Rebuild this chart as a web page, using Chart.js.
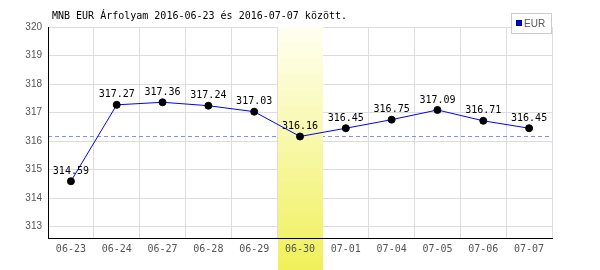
<!DOCTYPE html>
<html>
<head>
<meta charset="utf-8">
<script src="https://cdn.jsdelivr.net/npm/chart.js@4/dist/chart.umd.min.js"></script>
<style>
  html, body { margin: 0; padding: 0; background: #fff; }
  #wrap { width: 600px; height: 270px; position: relative; }
</style>
</head>
<body>
<div id="wrap"><canvas id="myChart"></canvas></div>
<script>
// adatok
const labels = ['06-23', '06-24', '06-27', '06-28', '06-29', '06-30', '07-01', '07-04', '07-05', '07-06', '07-07'];
const eurValues = [314.59, 317.27, 317.36, 317.24, 317.03, 316.16, 316.45, 316.75, 317.09, 316.71, 316.45];
const refLine = 316.16;      // szaggatott vonal
const highlightIndex = 5;    // kiemelt nap (06-30)
const titleText = 'MNB EUR Árfolyam 2016-06-23 és 2016-07-07 között.';
const yMin = 312.6;
const yMax = 320;

const monoFont = '"DejaVu Sans Mono", monospace';

// Kiemelés, szaggatott vonal, címkék, cím és jelmagyarázat
const extrasPlugin = {
    id: 'extras',
    beforeDatasetsDraw(chart) {
        const { ctx, chartArea, scales } = chart;
        const y = scales.y.getPixelForValue(refLine);
        ctx.save();
        ctx.strokeStyle = '#8888ff';
        ctx.lineWidth = 1;
        ctx.setLineDash([4, 3]);
        ctx.beginPath();
        ctx.moveTo(chartArea.left, Math.round(y) + 0.5);
        ctx.lineTo(chartArea.right, Math.round(y) + 0.5);
        ctx.stroke();
        ctx.restore();

        // kiemelt oszlop
        const step = (chartArea.right - chartArea.left) / labels.length;
        const x0 = chartArea.left + step * highlightIndex;
        const grad = ctx.createLinearGradient(0, chartArea.top, 0, chart.height);
        grad.addColorStop(0, '#fffff2');
        grad.addColorStop(1, '#f0f05a');
        ctx.save();
        ctx.fillStyle = grad;
        ctx.fillRect(Math.round(x0) + 1, chartArea.top, Math.round(step) - 1, chart.height - chartArea.top);
        ctx.restore();
    },
    afterDatasetsDraw(chart) {
        const { ctx } = chart;
        const meta = chart.getDatasetMeta(0);
        ctx.save();
        ctx.font = '10px ' + monoFont;
        ctx.fillStyle = '#000';
        ctx.textAlign = 'center';
        ctx.textBaseline = 'middle';
        meta.data.forEach((pt, i) => {
            ctx.fillText(eurValues[i].toFixed(2), pt.x, pt.y - 10);
        });
        ctx.restore();
    },
    afterDraw(chart) {
        const { ctx } = chart;
        ctx.save();
        // cím
        ctx.font = '10px ' + monoFont;
        ctx.fillStyle = '#000';
        ctx.textAlign = 'left';
        ctx.textBaseline = 'middle';
        ctx.fillText(titleText, 52, 16);

        // jelmagyarázat
        ctx.fillStyle = '#fff';
        ctx.fillRect(511, 13, 41, 20);
        ctx.strokeStyle = '#cccccc';
        ctx.lineWidth = 1;
        ctx.strokeRect(511.5, 13.5, 40, 20);
        ctx.fillStyle = '#0000ff';
        ctx.fillRect(516, 20, 6, 6);
        ctx.strokeStyle = '#000066';
        ctx.strokeRect(516.5, 20.5, 5, 5);
        ctx.font = '10px "Liberation Sans", Arial, sans-serif';
        ctx.fillStyle = '#555';
        ctx.fillText(chart.data.datasets[0].label, 524, 24);
        ctx.restore();
    }
};

const ctx = document.getElementById('myChart').getContext('2d');
const lineChart = new Chart(ctx, {
    type: 'line',
    data: {
        labels: labels,
        datasets: [
            {
                label: 'EUR',
                data: eurValues,
                borderColor: '#0000ff',
                borderWidth: 1,
                pointRadius: 3.5,
                pointBackgroundColor: '#000',
                pointBorderColor: '#000',
                pointBorderWidth: 1,
                tension: 0,
                fill: false
            }
        ]
    },
    options: {
        responsive: true,
        maintainAspectRatio: false,
        animation: false,
        devicePixelRatio: 1,
        layout: {
            padding: { top: 27, right: 48, left: 0, bottom: 0 }
        },
        plugins: {
            legend: { display: false },
            title: { display: false },
            tooltip: { enabled: false }
        },
        scales: {
            x: {
                offset: true,
                grid: { color: '#dddddd', offset: true, drawTicks: false },
                border: { color: '#000', z: 1 },
                ticks: {
                    z: 1,
                    color: '#555',
                    font: { family: monoFont, size: 10 },
                    padding: 5,
                    maxRotation: 0,
                    autoSkip: false
                },
                afterFit(scale) { scale.height = 32; }
            },
            y: {
                min: yMin,
                max: yMax,
                grid: { color: '#dddddd', drawTicks: false },
                border: { color: '#000', z: 1 },
                ticks: {
                    stepSize: 1,
                    color: '#555',
                    font: { family: '"Liberation Sans", Arial, sans-serif', size: 10 },
                    padding: 6
                },
                afterBuildTicks(scale) {
                    scale.ticks = scale.ticks.filter(t => Number.isInteger(t.value));
                },
                afterFit(scale) { scale.width = 48; }
            }
        }
    },
    plugins: [extrasPlugin]
});
</script>
</body>
</html>
